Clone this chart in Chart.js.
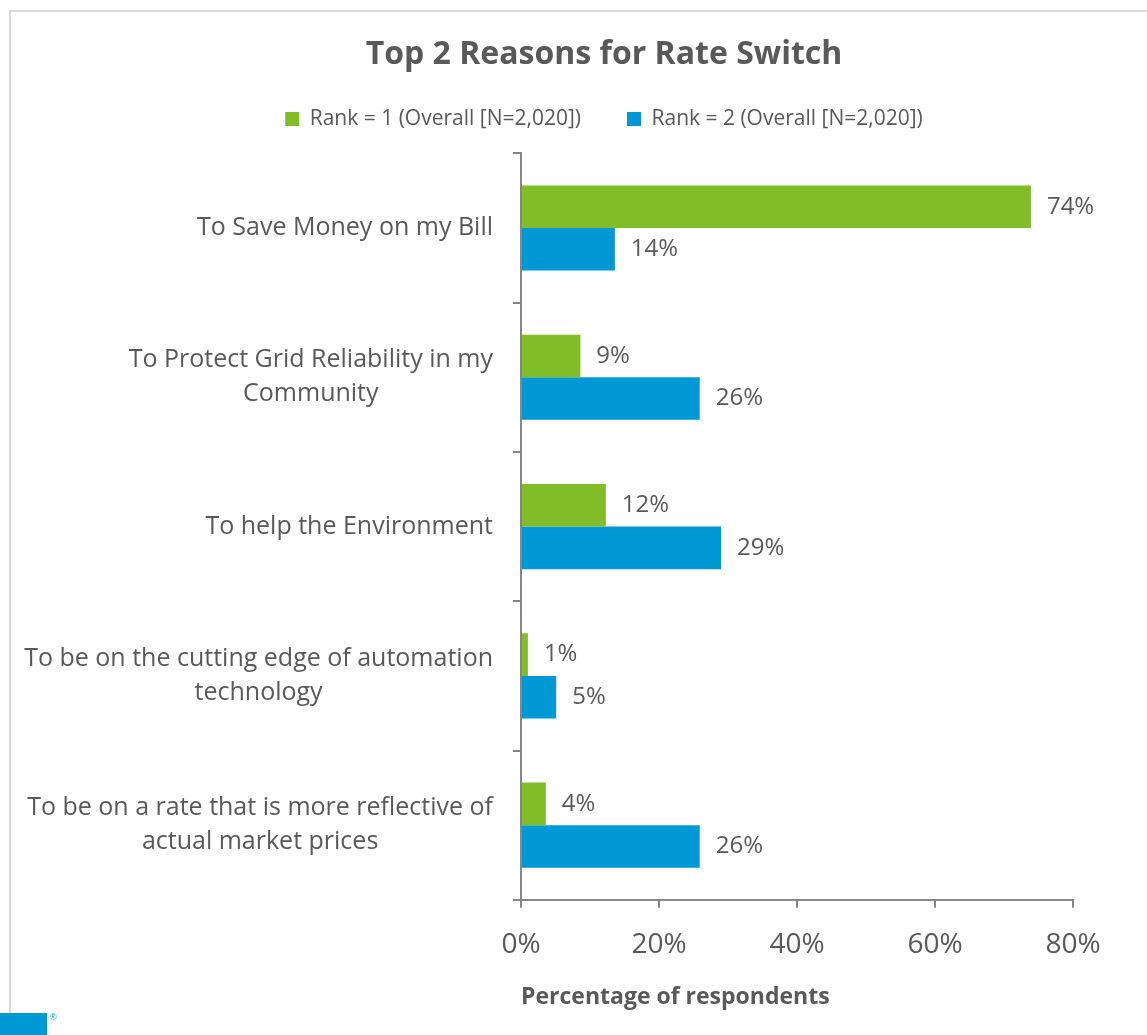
<!DOCTYPE html>
<html>
<head>
<meta charset="utf-8">
<script src="https://cdn.jsdelivr.net/npm/chart.js@4.4.1/dist/chart.umd.min.js"></script>
<style>
  html, body { margin: 0; padding: 0; background: #fff; overflow: hidden; width: 1147px; height: 1035px; }
  #frame { position: absolute; left: 9px; top: 10px; width: 1300px; height: 1100px; border-left: 2px solid #d9d9d9; border-top: 2px solid #d9d9d9; }
  #wrap { position: absolute; left: 0; top: 0; width: 1147px; height: 1035px; }
  #logo { position: absolute; left: 0; top: 1013px; width: 47px; height: 22px; background: #0099d6; }
  #reg { position: absolute; left: 50px; top: 1012px; font: 9px Arial, sans-serif; color: #0099d6; }
</style>
</head>
<body>
<div id="frame"></div>
<div id="wrap"><canvas id="chart"></canvas></div>
<div id="logo"></div>
<div id="reg">®</div>
<script>
// ---- data ----
const reasons = [
  ['To Save Money on my Bill'],
  ['To Protect Grid Reliability in my', 'Community'],
  ['To help the Environment'],
  ['To be on the cutting edge of automation', 'technology'],
  ['To be on a rate that is more reflective of', 'actual market prices']
];
const rank1 = [73.9, 8.6, 12.3, 1.0, 3.6];
const rank2 = [13.6, 25.9, 29.0, 5.1, 25.9];
const seriesNames = ['Rank = 1 (Overall [N=2,020])', 'Rank = 2 (Overall [N=2,020])'];
const xTicks = [0, 20, 40, 60, 80];

const GREEN = '#80bd26';
const BLUE = '#0099d6';
const TEXT = '#595959';
const AXIS = '#868686';
const FONT = '"Open Sans", Lato, sans-serif';

// value labels at the end of each bar
const barLabels = {
  id: 'barLabels',
  afterDatasetsDraw(chart) {
    const ctx = chart.ctx;
    ctx.save();
    ctx.font = '24px ' + FONT;
    ctx.fillStyle = TEXT;
    ctx.textAlign = 'left';
    ctx.textBaseline = 'middle';
    chart.data.datasets.forEach((ds, i) => {
      chart.getDatasetMeta(i).data.forEach((bar, j) => {
        ctx.fillText(Math.round(ds.data[j]) + '%', bar.x + 16, bar.y);
      });
    });
    ctx.restore();
  }
};

// category labels: right-aligned block, lines centred inside it
const catLabels = {
  id: 'catLabels',
  afterDraw(chart) {
    const ctx = chart.ctx;
    const y = chart.scales.y;
    ctx.save();
    ctx.font = '25px ' + FONT;
    ctx.fillStyle = TEXT;
    ctx.textAlign = 'center';
    ctx.textBaseline = 'middle';
    const lh = 34;
    reasons.forEach((lines, i) => {
      const w = Math.max(...lines.map(l => ctx.measureText(l).width));
      const cx = y.right - 28 - w / 2;
      const cy = y.getPixelForTick(i);
      lines.forEach((l, k) => {
        ctx.fillText(l, cx, cy + (k - (lines.length - 1) / 2) * lh);
      });
    });
    ctx.restore();
  }
};

// a bit more room under the legend
const legendGap = {
  id: 'legendGap',
  beforeInit(chart) {
    const fit = chart.legend.fit;
    chart.legend.fit = function () {
      fit.call(this);
      this.height += 14;
    };
  }
};

new Chart(document.getElementById('chart'), {
  type: 'bar',
  data: {
    labels: reasons,
    datasets: [
      { label: seriesNames[0], data: rank1, backgroundColor: GREEN },
      { label: seriesNames[1], data: rank2, backgroundColor: BLUE }
    ]
  },
  options: {
    indexAxis: 'y',
    responsive: true,
    maintainAspectRatio: false,
    animation: false,
    layout: { padding: { top: 0, right: 74, bottom: 20, left: 135 } },
    datasets: { bar: { categoryPercentage: 0.57, barPercentage: 1.0 } },
    plugins: {
      title: {
        display: true,
        text: 'Top 2 Reasons for Rate Switch',
        color: TEXT,
        font: { family: FONT, size: 32, weight: 'bold' },
        padding: { top: 36, bottom: -12 }
      },
      legend: {
        display: true,
        labels: {
          color: TEXT,
          font: { family: FONT, size: 21 },
          boxWidth: 14,
          boxHeight: 14,
          padding: 46
        }
      },
      tooltip: { enabled: false }
    },
    scales: {
      x: {
        min: 0,
        max: 80,
        afterBuildTicks: (s) => { s.ticks = xTicks.map(v => ({ value: v })); },
        ticks: {
          color: TEXT,
          font: { family: FONT, size: 28 },
          padding: 20,
          callback: (v) => v + '%'
        },
        grid: { drawOnChartArea: false, drawTicks: true, tickLength: 8, color: AXIS, lineWidth: 2 },
        border: { color: AXIS, width: 2 },
        title: {
          display: true,
          text: 'Percentage of respondents',
          align: 'start',
          color: TEXT,
          font: { family: FONT, size: 23, weight: 'bold' },
          padding: { top: 2, bottom: 4 }
        }
      },
      y: {
        ticks: { display: false },
        afterFit: (s) => { s.width = 521 - 135; },
        grid: { drawOnChartArea: false, drawTicks: true, tickLength: 8, color: AXIS, lineWidth: 2, offset: true },
        border: { color: AXIS, width: 2 }
      }
    }
  },
  plugins: [barLabels, catLabels, legendGap]
});
</script>
</body>
</html>
